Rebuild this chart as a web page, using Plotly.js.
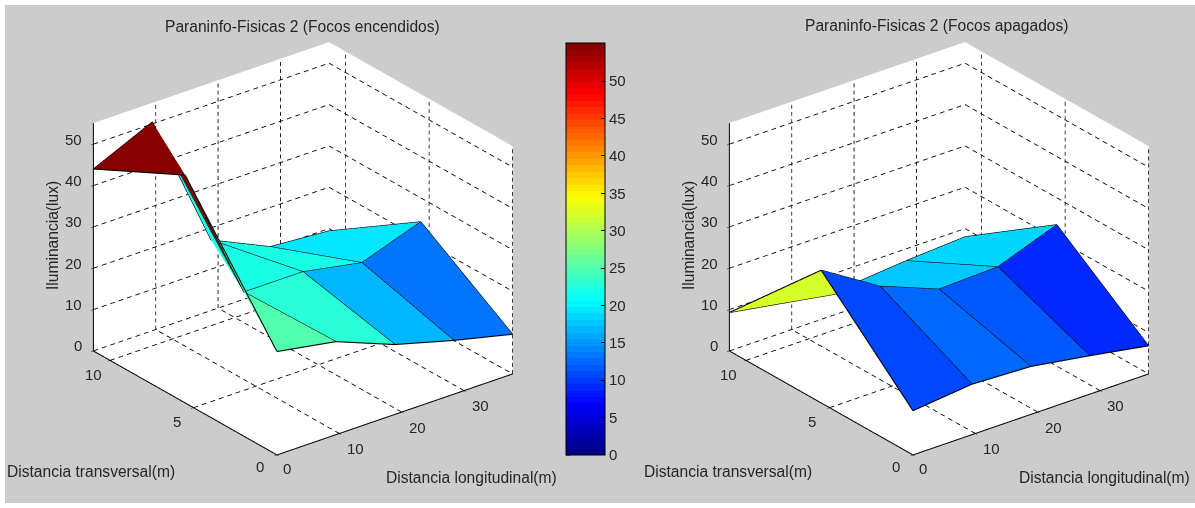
<!DOCTYPE html>
<html><head><meta charset="utf-8">
<script src="https://cdn.plot.ly/plotly-3.0.0.min.js"></script>
<style>html,body{margin:0;padding:0;background:#fff;overflow:hidden}
#chart{position:absolute;left:5px;top:5px;width:1190px;height:498px}</style>
</head><body><div id="chart"></div>
<script>
// Data
var xDist = [0, 9.45, 18.9, 28.35, 37.8];
var yDist = [0, 5.5, 11];
var onRows = [
  [25.0, 22.5, 16.9, 13.0, 9.6],
  [55.1, 21.9, 21.9, 19.2, 24.2],
  [44.0, 50.5, 17.0, 10.5, 9.4]
];
var offRows = [
  [10.7, 12.2, 11.6, 9.3, 6.8],
  [32.1, 23.3, 17.7, 18.2, 23.5],
  [9.3, 6.9, 5.8, 7.1, 8.0]
];
var xTicks = [0, 10, 20, 30];
var yTicks = [0, 5, 10];
var zTicks = [0, 10, 20, 30, 40, 50];
var cbTicks = [0, 5, 10, 15, 20, 25, 30, 35, 40, 45, 50];
var xMax = 37.8, yMax = 11, zMax = 55.1;
var titleOn = 'Paraninfo-Fisicas 2 (Focos encendidos)';
var titleOff = 'Paraninfo-Fisicas 2 (Focos apagados)';
var labelX = 'Distancia longitudinal(m)';
var labelY = 'Distancia transversal(m)';
var labelZ = 'Iluminancia(lux)';

var W = 1190, H = 498, OX = 5, OY = 5;
var FONT = 'Liberation Sans, Arial, sans-serif';
var TXT = '#262626';
function px(x){return (x-OX)/W;}
function py(y){return 1-(y-OY)/H;}

// MATLAB jet, 64 levels
function jet(k){
  var v = (k+0.5)/64*4;
  function c(t){return Math.round(255*Math.max(0,Math.min(1,t)));}
  return 'rgb('+c(Math.min(v-1.5,-v+4.5))+','+c(Math.min(v-0.5,-v+3.5))+','+c(Math.min(v+0.5,-v+2.5))+')';
}
var scale = [];
for (var k=0;k<64;k++){scale.push([k/64,jet(k)]);scale.push([(k+1)/64,jet(k)]);}

function meshTrace(rows, scene, showBar){
  var X=[],Y=[],Z=[],I=[],J=[],K=[],C=[];
  var nx=xDist.length, ny=yDist.length;
  for (var r=0;r<ny;r++) for (var q=0;q<nx;q++){X.push(xDist[q]);Y.push(yDist[r]);Z.push(rows[r][q]);}
  for (r=0;r<ny-1;r++) for (q=0;q<nx-1;q++){
    var a=r*nx+q,b=a+1,c=a+nx+1,d=a+nx;
    I.push(a,a);J.push(b,c);K.push(c,d);C.push(rows[r][q],rows[r][q]);
  }
  var t={type:'mesh3d',scene:scene,x:X,y:Y,z:Z,i:I,j:J,k:K,intensity:C,intensitymode:'cell',
    colorscale:scale,cmin:0,cmax:zMax,flatshading:true,hoverinfo:'skip',
    lighting:{ambient:1,diffuse:0,specular:0,fresnel:0,roughness:1},showscale:!!showBar};
  if (showBar) t.colorbar={x:px(566),xanchor:'left',xref:'paper',y:py(249),yanchor:'middle',yref:'paper',
    xpad:0,ypad:0,len:412,lenmode:'pixels',thickness:39,thicknessmode:'pixels',
    outlinecolor:'#000',outlinewidth:1,tickvals:cbTicks,ticktext:cbTicks.map(String),
    ticks:'inside',ticklen:4,tickcolor:'#000',tickfont:{family:FONT,size:15,color:TXT}};
  return t;
}
function edgeTrace(rows, scene){
  var X=[],Y=[],Z=[];
  rows.forEach(function(row,r){row.forEach(function(v,q){X.push(xDist[q]);Y.push(yDist[r]);Z.push(v);});X.push(null);Y.push(null);Z.push(null);});
  xDist.forEach(function(xv,q){rows.forEach(function(row,r){X.push(xv);Y.push(yDist[r]);Z.push(row[q]);});X.push(null);Y.push(null);Z.push(null);});
  return {type:'scatter3d',mode:'lines',scene:scene,x:X,y:Y,z:Z,line:{color:'#000',width:2.2},hoverinfo:'skip',showlegend:false};
}
function gridTrace(scene){
  var X=[],Y=[],Z=[];
  // dashed segment, split into short pieces; n = number of dash periods
  function seg(a,b,n){
    for (var s=0;s<n;s++){
      var f0=s/n, f1=(s+0.55)/n;
      X.push(a[0]+(b[0]-a[0])*f0,a[0]+(b[0]-a[0])*f1,null);
      Y.push(a[1]+(b[1]-a[1])*f0,a[1]+(b[1]-a[1])*f1,null);
      Z.push(a[2]+(b[2]-a[2])*f0,a[2]+(b[2]-a[2])*f1,null);
    }
  }
  var nx=28,ny=24,nz=32;
  xTicks.slice(1).forEach(function(t){seg([t,0,0],[t,yMax,0],ny);seg([t,yMax,0],[t,yMax,zMax],nz);});
  yTicks.slice(1).forEach(function(t){seg([0,t,0],[xMax,t,0],nx);seg([xMax,t,0],[xMax,t,zMax],nz);});
  zTicks.forEach(function(t){seg([0,yMax,t],[xMax,yMax,t],nx);seg([xMax,yMax,t],[xMax,0,t],ny);});
  seg([xMax,0,0],[xMax,0,zMax],nz);
  return {type:'scatter3d',mode:'lines',scene:scene,x:X,y:Y,z:Z,line:{color:'#000',width:1.7},hoverinfo:'skip',showlegend:false};
}
function axisTrace(scene){
  return {type:'scatter3d',mode:'lines',scene:scene,
    x:[xMax,0,0,0],y:[0,0,yMax,yMax],z:[0,0,0,zMax],line:{color:'#000',width:2},hoverinfo:'skip',showlegend:false};
}
function sceneLayout(cx){
  var hw=255, hh=249;
  function ax(vals,max){return {range:[0,max],autorange:false,showgrid:false,zeroline:false,showline:false,
    showbackground:true,backgroundcolor:'#fff',showspikes:false,tickmode:'array',tickvals:vals,ticks:'outside',
    ticklen:3,tickcolor:'#000',showticklabels:false,title:{text:''}};}
  var anns=[];
  function ann(x,y,z,t,dx,dy){anns.push({x:x,y:y,z:z,text:t,showarrow:false,xshift:dx,yshift:-dy,xanchor:'center',yanchor:'middle',
    font:{family:FONT,size:15,color:TXT}});}
  xTicks.forEach(function(t){ann(t,0,0,String(t),t===0?10:16,t===0?14:15);});
  yTicks.forEach(function(t){ann(0,t,0,String(t),-17,t===0?12:14);});
  zTicks.forEach(function(t){ann(0,yMax,t,String(t),t===0?-15:-20,-5);});
  var dz=-0.0135;
  return {domain:{x:[px(cx-hw),px(cx+hw)],y:[py(249+hh),py(249-hh)]},
    aspectmode:'manual',aspectratio:{x:1.212,y:1.212,z:1.03},
    camera:{projection:{type:'orthographic'},up:{x:0,y:0,z:1},center:{x:0,y:0,z:dz},
      eye:{x:-0.55*1.6,y:-0.706*1.6,z:0.44*1.6+dz}},
    xaxis:ax(xTicks,xMax),yaxis:ax(yTicks,yMax),zaxis:ax(zTicks,zMax),annotations:anns,dragmode:false};
}
function label(x,y,t,rot){return {xref:'paper',yref:'paper',x:px(x),y:py(y),text:t,showarrow:false,xanchor:'center',yanchor:'middle',
  textangle:rot||0,font:{family:FONT,size:15.6,color:TXT}};}

var data=[
  meshTrace(onRows,'scene',true),edgeTrace(onRows,'scene'),gridTrace('scene'),axisTrace('scene'),
  meshTrace(offRows,'scene2',false),edgeTrace(offRows,'scene2'),gridTrace('scene2'),axisTrace('scene2')
];
var cbShapes=cbTicks.map(function(v){var y=455-v/zMax*412;
  return {type:'line',xref:'paper',yref:'paper',x0:px(566),x1:px(570),y0:py(y),y1:py(y),line:{color:'#000',width:1}};});
var layout={width:W,height:H,margin:{l:0,r:0,t:0,b:0},paper_bgcolor:'#cccccc',showlegend:false,
  scene:sceneLayout(303),scene2:sceneLayout(938.7),shapes:cbShapes,
  annotations:[
    label(302,27,titleOn),label(937,26,titleOff),
    label(52,236,labelZ,-90),label(688,236,labelZ,-90),
    label(91,471,labelY),label(727.6,471,labelY),
    label(471,477,labelX),label(1104.5,477,labelX)
  ]};
Plotly.newPlot('chart',data,layout,{displayModeBar:false});
</script></body></html>
